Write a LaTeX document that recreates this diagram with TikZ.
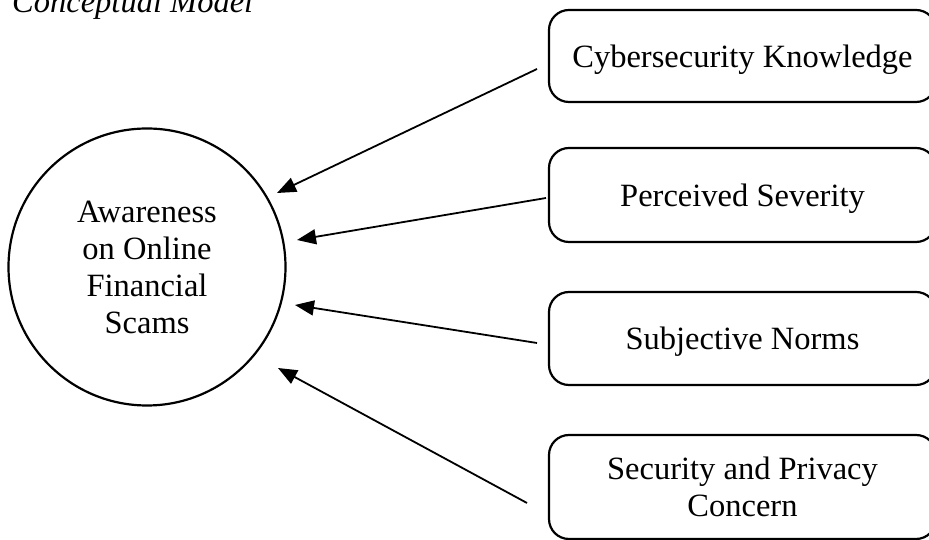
\documentclass[tikz,border=0pt]{standalone}
\usepackage{fontspec}
\setmainfont{Liberation Serif}
\usetikzlibrary{arrows.meta}
\begin{document}
\begin{tikzpicture}[x=1pt,y=1pt,
  font=\fontsize{32.5}{37}\selectfont,
  factor/.style={draw, line width=2.2pt, rounded corners=20pt,
    minimum width=387pt, align=center, inner sep=0pt, text depth=0pt},
  outcome/.style={draw, circle, line width=2.2pt, minimum size=277pt,
    align=center, inner sep=0pt, text depth=0pt},
  link/.style={line width=1.8pt, -{Triangle[length=19pt,width=15pt]}}]
\useasboundingbox (0,0) rectangle (929,540);
\clip (0,0) rectangle (929,540);

% caption (partly above the page)
\node[anchor=base west, inner sep=0pt, font=\fontsize{32.5}{37}\selectfont\itshape]
  (title) at (12,527) {Conceptual Model};

% dependent construct
\node[outcome] (aware) at (147,273) {Awareness\\on Online\\Financial\\Scams};

% predictors
\node[factor, minimum height=92pt] (know) at (742.5,484) {Cybersecurity Knowledge};
\node[factor, minimum height=94pt] (sev)  at (742.5,345) {Perceived Severity};
\node[factor, minimum height=93pt] (norm) at (742.5,201.5) {Subjective Norms};
\node[factor, minimum height=104pt] (sec) at (742.5,53) {Security and Privacy\\Concern};

% arrow ends
\coordinate (know-tail) at (537,471);
\coordinate (know-head) at (277,347);
\coordinate (sev-tail)  at (546,342);
\coordinate (sev-head)  at (297,300);
\coordinate (norm-tail) at (537,197);
\coordinate (norm-head) at (295,235);
\coordinate (sec-tail)  at (527,37);
\coordinate (sec-head)  at (278,172);

\draw[link] (know-tail) -- (know-head);
\draw[link] (sev-tail)  -- (sev-head);
\draw[link] (norm-tail) -- (norm-head);
\draw[link] (sec-tail)  -- (sec-head);
\end{tikzpicture}
\end{document}
